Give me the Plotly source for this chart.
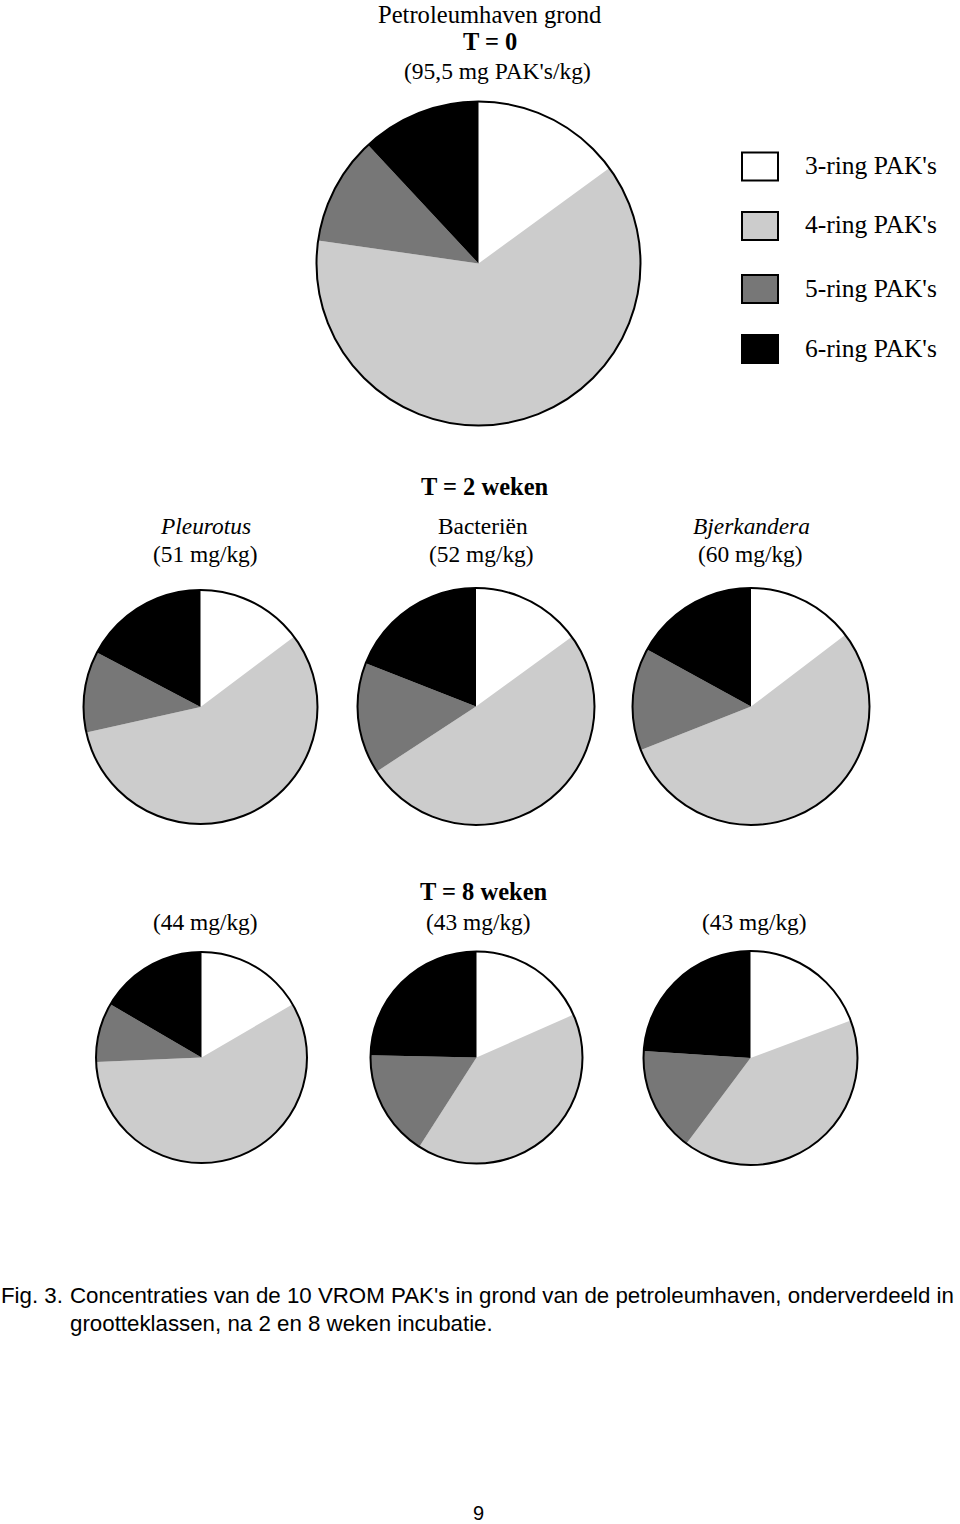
import plotly.graph_objects as go

W, H = 960, 1524

# ---- data ----
ring_classes = ["3-ring PAK's", "4-ring PAK's", "5-ring PAK's", "6-ring PAK's"]
ring_colors = ["#ffffff", "#cccccc", "#777777", "#000000"]

t0_values = [14.3, 59.5, 10.3, 11.4]                 # 95,5 mg/kg
pleurotus_2w = [7.5, 28.9, 5.7, 8.8]                 # 51 mg/kg
bacterien_2w = [7.8, 26.4, 7.9, 9.9]                 # 52 mg/kg
bjerkandera_2w = [8.8, 32.6, 8.4, 10.2]              # 60 mg/kg
pleurotus_8w = [7.3, 25.4, 4.0, 7.3]                 # 44 mg/kg
bacterien_8w = [7.9, 17.5, 7.0, 10.6]                # 43 mg/kg
bjerkandera_8w = [8.3, 17.6, 6.8, 10.3]              # 43 mg/kg

# ---- layout of pies (center x, center y from top, radius) in px ----
pies = [
    (t0_values, 478.5, 263.5, 162),
    (pleurotus_2w, 200.5, 707.0, 117),
    (bacterien_2w, 476.0, 706.5, 118.5),
    (bjerkandera_2w, 751.0, 706.5, 118.5),
    (pleurotus_8w, 201.5, 1057.5, 105.5),
    (bacterien_8w, 476.5, 1057.5, 106),
    (bjerkandera_8w, 750.5, 1058.0, 107),
]

fig = go.Figure()
shapes = []
for vals, cx, cy, r in pies:
    x0, x1 = (cx - r) / W, (cx + r) / W
    y0, y1 = (H - cy - r) / H, (H - cy + r) / H
    fig.add_trace(go.Pie(
        labels=ring_classes, values=vals, sort=False, direction="clockwise",
        rotation=0, marker=dict(colors=ring_colors, line=dict(width=0)),
        textinfo="none", hoverinfo="label+value", showlegend=False,
        domain=dict(x=[x0, x1], y=[y0, y1]),
    ))
    shapes.append(dict(type="circle", xref="paper", yref="paper",
                       x0=x0, x1=x1, y0=y0, y1=y1,
                       line=dict(color="black", width=2)))

# legend boxes
legend_y = [166.5, 226, 289, 349]
for lbl, col, ly in zip(ring_classes, ring_colors, legend_y):
    shapes.append(dict(type="rect", xref="paper", yref="paper",
                       x0=742 / W, x1=778 / W,
                       y0=(H - ly - 14) / H, y1=(H - ly + 14) / H,
                       fillcolor=col, line=dict(color="black", width=2)))

annotations = []
def txt(text, x, y, size=21, family="Liberation Serif", xanchor="center", color="black"):
    annotations.append(dict(text=text, x=x / W, y=(H - y) / H, xref="paper", yref="paper",
                            showarrow=False, xanchor=xanchor, yanchor="middle",
                            font=dict(family=family, size=size, color=color)))

serif = "Liberation Serif, Times New Roman, serif"
sans = "Liberation Sans, Arial, sans-serif"

for lbl, ly in zip(ring_classes, legend_y):
    txt(lbl, 803, ly - 1, size=25.5, family=serif, xanchor="left")

txt("Petroleumhaven grond", 489.5, 14, size=24.6, family=serif)
txt("<b>T = 0</b>", 489.5, 42, size=24.5, family=serif)
txt("(95,5 mg PAK's/kg)", 497, 71, size=23.5, family=serif)

txt("<b>T = 2 weken</b>", 485, 487, size=24.5, family=serif)
txt("<i>Pleurotus</i>", 205, 526, size=23.4, family=serif)
txt("(51 mg/kg)", 205, 554, size=23.4, family=serif)
txt("Bacteriën", 483, 526, size=23.4, family=serif)
txt("(52 mg/kg)", 481, 554, size=23.4, family=serif)
txt("<i>Bjerkandera</i>", 751, 526, size=23.4, family=serif)
txt("(60 mg/kg)", 750, 554, size=23.4, family=serif)

txt("<b>T = 8 weken</b>", 484, 891, size=24.5, family=serif)
txt("(44 mg/kg)", 205, 922, size=23.4, family=serif)
txt("(43 mg/kg)", 478, 922, size=23.4, family=serif)
txt("(43 mg/kg)", 754, 922, size=23.4, family=serif)

txt("Fig. 3.", -1, 1295, size=22.3, family=sans, xanchor="left")
txt("Concentraties van de 10 VROM PAK's in grond van de petroleumhaven, onderverdeeld in",
    68, 1295, size=22.3, family=sans, xanchor="left")
txt("grootteklassen, na 2 en 8 weken incubatie.", 68, 1323, size=22.3, family=sans, xanchor="left")
txt("9", 478, 1513, size=20, family=sans)

fig.update_layout(
    width=W, height=H, margin=dict(l=0, r=0, t=0, b=0),
    paper_bgcolor="white", plot_bgcolor="white",
    shapes=shapes, annotations=annotations, showlegend=False,
)

fig.write_html("out.html")
